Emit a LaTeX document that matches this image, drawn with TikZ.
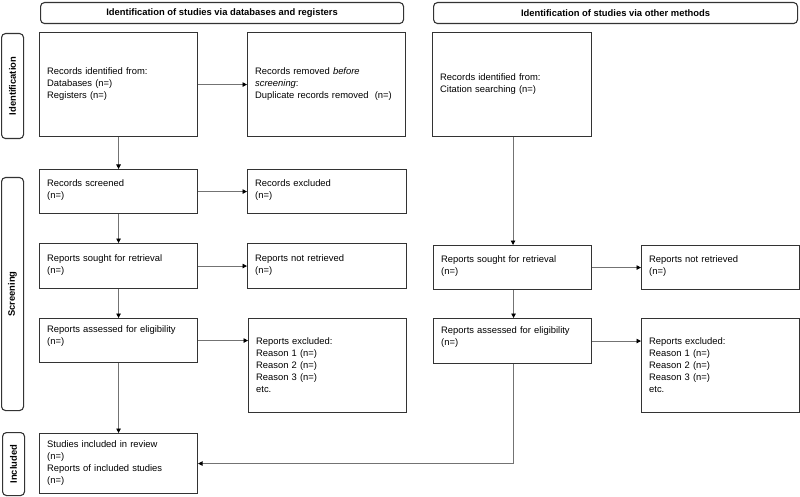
\documentclass[tikz,border=0pt]{standalone}
\usepackage{fontspec}
\setmainfont{Liberation Sans}
\usetikzlibrary{arrows.meta}
\begin{document}
\begin{tikzpicture}[x=1pt,y=-1pt,
  every node/.style={font=\fontsize{9.4}{12}\selectfont},
  box/.style={draw=black!80, line width=1.1pt, align=left, inner sep=0pt, anchor=north west},
  hdr/.style={draw=black!80, line width=1.1pt, rounded corners=4pt, inner sep=0pt, anchor=north west, font=\fontsize{9.4}{12}\selectfont\bfseries},
  side/.style={draw=black!80, line width=1.1pt, rounded corners=4pt, inner sep=0pt, anchor=north west},
  conn/.style={draw=black!55, line width=0.8pt},
  arr/.style={conn, -{Triangle[length=4.5pt,width=4.5pt,fill=black,color=black]}}
]
\useasboundingbox (0,0) rectangle (800,497);
% headers
\node[hdr, minimum width=363pt, minimum height=21pt] (h1) at (40,2) {Identification of studies via databases and registers};
\node[hdr, minimum width=364pt, minimum height=21pt] (h2) at (433,2) {Identification of studies via other methods};
% side labels
\node[side, minimum width=22pt, minimum height=105pt] (s1) at (1,33) {};
\node[rotate=90, font=\fontsize{9.4}{12}\selectfont\bfseries] (s1t) at (s1.center) {Identification};
\node[side, minimum width=22pt, minimum height=233pt] (s2) at (1,177) {};
\node[rotate=90, font=\fontsize{9.4}{12}\selectfont\bfseries] (s2t) at (s2.center) {Screening};
\node[side, minimum width=22pt, minimum height=63pt] (s3) at (2,432) {};
\node[rotate=90, font=\fontsize{9.4}{12}\selectfont\bfseries] (s3t) at (s3.center) {Included};
% left column boxes
\node[box, minimum width=158pt, minimum height=104pt] (idb) at (39,32) {};
\node[anchor=west, align=left, text width=145pt, inner sep=0pt] (idbt) at ([xshift=8pt]idb.west) {Records identified from:\\Databases (n=)\\Registers (n=)};
\node[box, minimum width=158pt, minimum height=104pt] (rem) at (247,32) {};
\node[anchor=west, align=left, text width=145pt, inner sep=0pt] (remt) at ([xshift=8pt]rem.west) {Records removed \textit{before}\\\textit{screening}:\\Duplicate records removed\ \ (n=)};
\node[box, minimum width=158pt, minimum height=44pt] (scr) at (39,169) {};
\node[anchor=west, align=left, text width=145pt, inner sep=0pt] (scrt) at ([xshift=8pt,yshift=1pt]scr.west) {Records screened\\(n=)};
\node[box, minimum width=159pt, minimum height=44pt] (exc) at (247,169) {};
\node[anchor=west, align=left, text width=145pt, inner sep=0pt] (exct) at ([xshift=8pt,yshift=1pt]exc.west) {Records excluded\\(n=)};
\node[box, minimum width=158pt, minimum height=45pt] (sgt) at (39,243) {};
\node[anchor=west, align=left, text width=145pt, inner sep=0pt] (sgtt) at ([xshift=8pt,yshift=1pt]sgt.west) {Reports sought for retrieval\\(n=)};
\node[box, minimum width=159pt, minimum height=45pt] (nrt) at (247,243) {};
\node[anchor=west, align=left, text width=145pt, inner sep=0pt] (nrtt) at ([xshift=8pt,yshift=1pt]nrt.west) {Reports not retrieved\\(n=)};
\node[box, minimum width=158pt, minimum height=44pt] (asd) at (39,318) {};
\node[anchor=west, align=left, text width=145pt, inner sep=0pt] (asdt) at ([xshift=8pt,yshift=4pt]asd.west) {Reports assessed for eligibility\\(n=)};
\node[box, minimum width=158pt, minimum height=94pt] (rex) at (248,318) {};
\node[anchor=west, align=left, text width=145pt, inner sep=0pt] (rext) at ([xshift=8pt]rex.west) {Reports excluded:\\Reason 1 (n=)\\Reason 2 (n=)\\Reason 3 (n=)\\etc.};
\node[box, minimum width=158pt, minimum height=60pt] (inc) at (39,433) {};
\node[anchor=west, align=left, text width=145pt, inner sep=0pt] (inct) at ([xshift=8pt]inc.west) {Studies included in review\\(n=)\\Reports of included studies\\(n=)};
% right column boxes
\node[box, minimum width=159pt, minimum height=104pt] (cit) at (432,32) {};
\node[anchor=west, align=left, text width=145pt, inner sep=0pt] (citt) at ([xshift=8pt]cit.west) {Records identified from:\\Citation searching (n=)};
\node[box, minimum width=158pt, minimum height=44pt] (sgt2) at (433,245) {};
\node[anchor=west, align=left, text width=145pt, inner sep=0pt] (sgt2t) at ([xshift=8pt,yshift=1pt]sgt2.west) {Reports sought for retrieval\\(n=)};
\node[box, minimum width=158pt, minimum height=44pt] (nrt2) at (641,245) {};
\node[anchor=west, align=left, text width=145pt, inner sep=0pt] (nrt2t) at ([xshift=8pt,yshift=1pt]nrt2.west) {Reports not retrieved\\(n=)};
\node[box, minimum width=158pt, minimum height=45pt] (asd2) at (433,318) {};
\node[anchor=west, align=left, text width=145pt, inner sep=0pt] (asd2t) at ([xshift=8pt,yshift=4pt]asd2.west) {Reports assessed for eligibility\\(n=)};
\node[box, minimum width=158pt, minimum height=94pt] (rex2) at (641,318) {};
\node[anchor=west, align=left, text width=145pt, inner sep=0pt] (rex2t) at ([xshift=8pt]rex2.west) {Reports excluded:\\Reason 1 (n=)\\Reason 2 (n=)\\Reason 3 (n=)\\etc.};
% connectors left
\draw[arr] (idb.east) -- (rem.west);
\draw[arr] (idb.south -| scr.north) -- (scr.north);
\draw[arr] (scr.east) -- (scr.east -| exc.west);
\draw[arr] (scr.south) -- (sgt.north);
\draw[arr] (sgt.east) -- (sgt.east -| nrt.west);
\draw[arr] (sgt.south) -- (asd.north);
\draw[arr] (asd.east) -- (asd.east -| rex.west);
\draw[arr] (asd.south) -- (inc.north);
% connectors right
\coordinate (jn) at ([xshift=1pt]asd2.south |- inc.east);
\draw[arr] ([xshift=1pt]cit.south) -- ([xshift=1pt]cit.south |- sgt2.north);
\draw[arr] (sgt2.east) -- (sgt2.east -| nrt2.west);
\draw[arr] ([xshift=1pt]sgt2.south) -- ([xshift=1pt]asd2.north);
\draw[arr] (asd2.east) -- (asd2.east -| rex2.west);
\draw[arr] ([xshift=1pt]asd2.south) -- (jn) -- (inc.east);
\end{tikzpicture}
\end{document}
